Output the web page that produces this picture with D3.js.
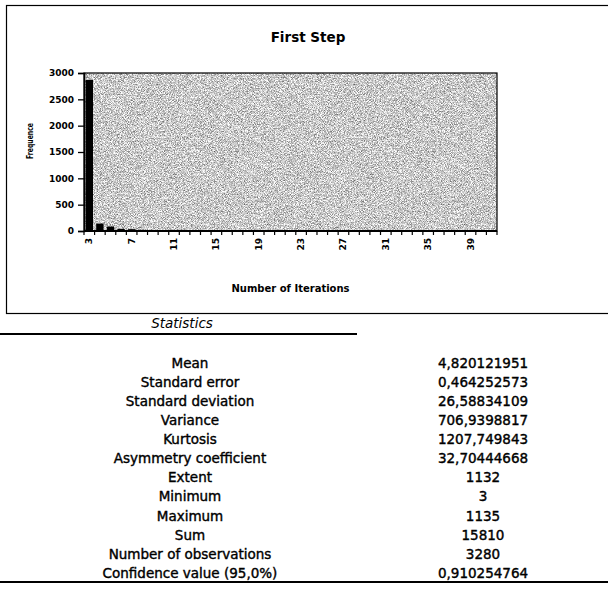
<!DOCTYPE html>
<html>
<head>
<meta charset="utf-8">
<script src="https://cdn.jsdelivr.net/npm/d3@7"></script>
<style>
  body { margin: 0; background: #fff; }
  svg { display: block; }
</style>
</head>
<body>
<svg id="fig" width="608" height="589"></svg>
<script>
// Histogram of iteration counts (first step)
const iterations = [3, 4, 5, 6, 7, 8, 9, 10, 11, 12, 13, 14, 15, 16, 17, 18, 19, 20, 21, 22,
                    23, 24, 25, 26, 27, 28, 29, 30, 31, 32, 33, 34, 35, 36, 37, 38, 39, 40, 41];
const frequency  = [2870, 140, 85, 40, 35, 22, 12, 9, 7, 5, 4, 3, 3, 2, 2, 2, 1, 1, 1, 1,
                    1, 0, 1, 0, 0, 1, 0, 0, 0, 0, 1, 0, 0, 0, 0, 0, 0, 0, 0];
const xTickLabels = [3, 7, 11, 15, 19, 23, 27, 31, 35, 39];
const yTicks = [0, 500, 1000, 1500, 2000, 2500, 3000];

// Descriptive statistics table
const statNames = ["Mean", "Standard error", "Standard deviation", "Variance", "Kurtosis",
                   "Asymmetry coefficient", "Extent", "Minimum", "Maximum", "Sum",
                   "Number of observations", "Confidence value (95,0%)"];
const statValues = ["4,820121951", "0,464252573", "26,58834109", "706,9398817", "1207,749843",
                    "32,70444668", "1132", "3", "1135", "15810", "3280", "0,910254764"];

const svg = d3.select("#fig");
const chartFont = "'DejaVu Sans', sans-serif";

// Stippled grey fill for the plot area
const defs = svg.append("defs");
const f = defs.append("filter").attr("id", "stipple")
  .attr("x", 0).attr("y", 0).attr("width", 1).attr("height", 1)
  .attr("color-interpolation-filters", "sRGB");
f.append("feTurbulence").attr("type", "fractalNoise").attr("baseFrequency", 1.3)
  .attr("numOctaves", 1).attr("seed", 7).attr("result", "noise");
f.append("feColorMatrix").attr("in", "noise").attr("type", "matrix")
  .attr("values", "1.3 0 0 0 0.14  1.3 0 0 0 0.14  1.3 0 0 0 0.14  0 0 0 0 1");

// Outer chart frame
svg.append("rect").attr("x", 6.5).attr("y", 5.5).attr("width", 620).attr("height", 308)
  .attr("fill", "none").attr("stroke", "#000").attr("stroke-width", 1.2);

const plot = { left: 84, right: 497, top: 73, bottom: 231 };

const x = d3.scaleBand().domain(iterations).range([plot.left, plot.right])
  .paddingInner(0.3).paddingOuter(0.15);
const y = d3.scaleLinear().domain([0, 3000]).range([plot.bottom, plot.top]);

// Plot area
svg.append("rect").attr("x", plot.left).attr("y", plot.top)
  .attr("width", plot.right - plot.left).attr("height", plot.bottom - plot.top)
  .attr("fill", "#c8c8c8").attr("filter", "url(#stipple)");
svg.append("rect").attr("x", plot.left).attr("y", plot.top)
  .attr("width", plot.right - plot.left).attr("height", plot.bottom - plot.top)
  .attr("fill", "none").attr("stroke", "#000").attr("stroke-width", 1.2);

// Bars
svg.append("g").selectAll("rect").data(iterations).join("rect")
  .attr("x", d => x(d))
  .attr("y", (d, i) => y(frequency[i]))
  .attr("width", x.bandwidth())
  .attr("height", (d, i) => y(0) - y(frequency[i]))
  .attr("fill", "#000");

// Y axis
const yAxis = svg.append("g").attr("transform", `translate(${plot.left},0)`)
  .call(d3.axisLeft(y).tickValues(yTicks).tickSize(6).tickPadding(4).tickFormat(d3.format("d")));
yAxis.select(".domain").attr("stroke-width", 1.5);
yAxis.selectAll("line").attr("stroke-width", 1.3);
yAxis.selectAll("text").attr("font-family", chartFont).attr("font-weight", "bold")
  .attr("font-size", 9).attr("fill", "#000");

// X axis: ticks sit between categories, labels every fourth category
const step = x.step();
const boundaries = iterations.map(d => x(d) - (step - x.bandwidth()) / 2).concat([plot.right]);
const xAxis = svg.append("g");
xAxis.append("line").attr("x1", plot.left).attr("x2", plot.right)
  .attr("y1", plot.bottom).attr("y2", plot.bottom)
  .attr("stroke", "#000").attr("stroke-width", 2.2);
xAxis.selectAll("line.tick").data(boundaries).join("line").attr("class", "tick")
  .attr("x1", d => d).attr("x2", d => d)
  .attr("y1", plot.bottom).attr("y2", plot.bottom + 4)
  .attr("stroke", "#000").attr("stroke-width", 1.2);
xAxis.selectAll("text").data(xTickLabels).join("text")
  .attr("transform", d => `translate(${x(d) + x.bandwidth() / 2 + 3},${plot.bottom + 7}) rotate(-90)`)
  .attr("text-anchor", "end")
  .attr("font-family", chartFont).attr("font-weight", "bold").attr("font-size", 9)
  .text(d => d);

// Titles
svg.append("text").attr("x", 308).attr("y", 42).attr("text-anchor", "middle")
  .attr("font-family", chartFont).attr("font-weight", "bold").attr("font-size", 13.5)
  .text("First Step");
svg.append("text").attr("x", (plot.left + plot.right) / 2).attr("y", 292).attr("text-anchor", "middle")
  .attr("font-family", chartFont).attr("font-weight", "bold").attr("font-size", 10)
  .text("Number of Iterations");
svg.append("text").attr("transform", "translate(33,141) rotate(-90)").attr("text-anchor", "middle")
  .attr("font-family", chartFont).attr("font-weight", "bold").attr("font-size", 8.5)
  .attr("textLength", 36).attr("lengthAdjust", "spacingAndGlyphs")
  .text("Frequence");

// Statistics table
const tableFont = "'DejaVu Sans', sans-serif";
svg.append("text").attr("x", 182).attr("y", 328).attr("text-anchor", "middle")
  .attr("font-family", tableFont).attr("font-style", "italic").attr("font-size", 13.5)
  .text("Statistics");
svg.append("line").attr("x1", 0).attr("x2", 357).attr("y1", 334).attr("y2", 334)
  .attr("stroke", "#000").attr("stroke-width", 2.2);

const row = d3.scaleLinear().domain([0, statNames.length - 1]).range([367.5, 578]);
const rows = svg.append("g").attr("font-family", tableFont).attr("font-size", 13.5)
  .attr("fill", "#000").attr("stroke", "#000").attr("stroke-width", 0.4);
rows.selectAll("text.name").data(statNames).join("text").attr("class", "name")
  .attr("x", 190).attr("y", (d, i) => row(i)).attr("text-anchor", "middle").text(d => d);
rows.selectAll("text.value").data(statValues).join("text").attr("class", "value")
  .attr("x", 483).attr("y", (d, i) => row(i)).attr("text-anchor", "middle").text(d => d);

svg.append("line").attr("x1", 0).attr("x2", 608).attr("y1", 582).attr("y2", 582)
  .attr("stroke", "#000").attr("stroke-width", 2.2);
</script>
</body>
</html>
